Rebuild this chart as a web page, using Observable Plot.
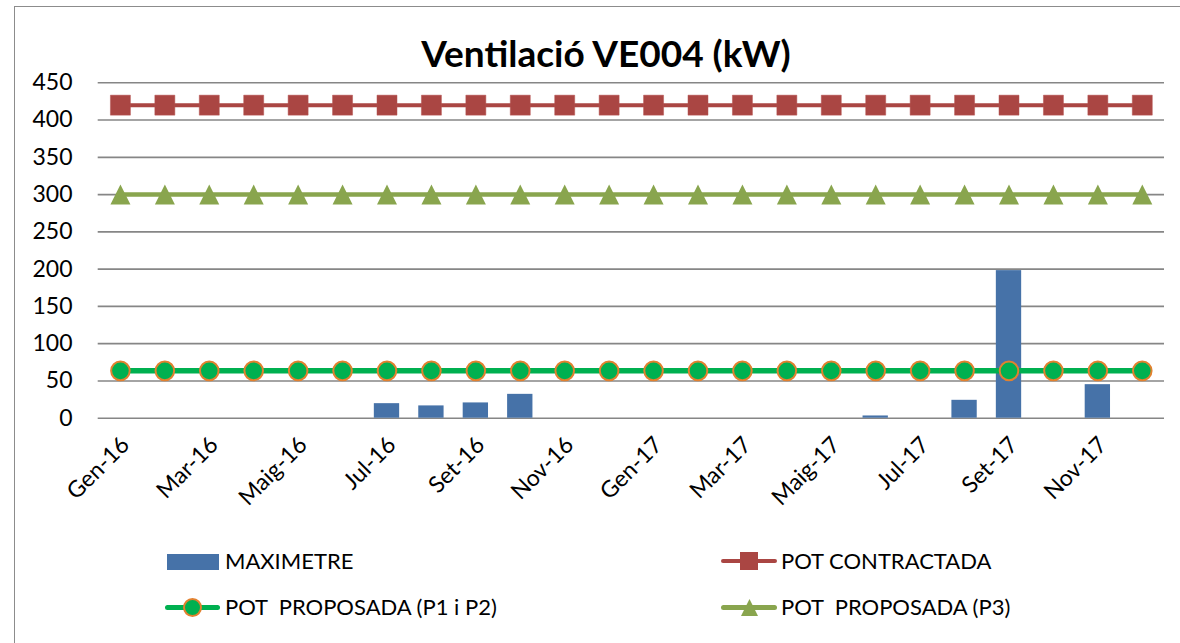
<!DOCTYPE html>
<html>
<head>
<meta charset="utf-8">
<script src="https://cdn.jsdelivr.net/npm/d3@7"></script>
<script src="https://cdn.jsdelivr.net/npm/@observablehq/plot@0.6"></script>
<style>
  html, body { margin: 0; padding: 0; background: #fff; }
  #wrap { position: relative; width: 1180px; height: 643px; overflow: hidden; font-family: Lato, "Liberation Sans", sans-serif; color: #000; }
  #frame { position: absolute; left: 14px; top: 6px; width: 1200px; height: 700px; border-left: 1.5px solid #8c8c8c; border-top: 1.5px solid #8c8c8c; box-sizing: border-box; }
  #title { position: absolute; left: 0; top: 28px; width: 1212px; text-align: center; font-weight: bold; font-size: 37px; line-height: 50px; }
  #chart { position: absolute; left: 0; top: 60px; }
  .legtxt { position: absolute; font-size: 22px; line-height: 30px; white-space: pre; }
  .sw { position: absolute; }
</style>
</head>
<body>
<div id="wrap">
  <div id="frame"></div>
  <div id="chart"></div>
  <div id="title">Ventilació VE004 (kW)</div>
  <div id="legend"></div>
</div>
<script>
const months = ["Gen-16","Feb-16","Mar-16","Abr-16","Maig-16","Jun-16","Jul-16","Ago-16","Set-16","Oct-16","Nov-16","Des-16",
                "Gen-17","Feb-17","Mar-17","Abr-17","Maig-17","Jun-17","Jul-17","Ago-17","Set-17","Oct-17","Nov-17","Des-17"];
const maximetre = [null,null,null,null,null,null,19.5,16.5,20.5,32,null,null,
                   null,null,null,null,null,3,null,24,198,null,45,null];
const potContractada = [420,420,420,420,420,420,420,420,420,420,420,420,
                        420,420,420,420,420,420,420,420,420,420,420,420];
const potP1P2 = [63.5,63.5,63.5,63.5,63.5,63.5,63.5,63.5,63.5,63.5,63.5,63.5,
                 63.5,63.5,63.5,63.5,63.5,63.5,63.5,63.5,63.5,63.5,63.5,63.5];
const potP3 = [300,300,300,300,300,300,300,300,300,300,300,300,
               300,300,300,300,300,300,300,300,300,300,300,300];
const xTickLabels = ["Gen-16","Mar-16","Maig-16","Jul-16","Set-16","Nov-16","Gen-17","Mar-17","Maig-17","Jul-17","Set-17","Nov-17"];
const yTicks = [0,50,100,150,200,250,300,350,400,450];
const seriesNames = ["MAXIMETRE","POT CONTRACTADA","POT  PROPOSADA (P1 i P2)","POT  PROPOSADA (P3)"];

const rows = months.map((m, i) => ({month: m, max: maximetre[i], contr: potContractada[i], p12: potP1P2[i], p3: potP3[i]}));

const C_BAR = "#4672A8", C_RED = "#AA4643", C_GREEN = "#00B050", C_ORANGE = "#E2812F", C_OLIVE = "#89A54E";

const squareSym = { draw(ctx, size) { const r = Math.sqrt(size / Math.PI); ctx.rect(-r, -r, 2 * r, 2 * r); } };
const triSym = { draw(ctx, size) { const r = Math.sqrt(size / Math.PI); ctx.moveTo(0, -r); ctx.lineTo(r, r); ctx.lineTo(-r, r); ctx.closePath(); } };

const chart = Plot.plot({
  width: 1180,
  height: 472,
  marginTop: 22.3,
  marginBottom: 114.3,
  marginLeft: 97.7,
  marginRight: 16,
  style: { fontFamily: "Lato, 'Liberation Sans', sans-serif", background: "transparent", color: "#000" },
  x: { type: "band", domain: months, paddingInner: 0.43, paddingOuter: 0.215, round: false, axis: null, label: null },
  y: { domain: [0, 450], axis: null, label: null },
  marks: [
    Plot.ruleY(yTicks, { stroke: "#868686", strokeWidth: 1.6 }),
    Plot.axisY({ ticks: yTicks, tickSize: 0, tickPadding: 25.7, fontSize: 23, fill: "#000", label: null }),
    Plot.barY(rows.filter(d => d.max != null), { x: "month", y: "max", fill: C_BAR }),
    Plot.lineY(rows, { x: "month", y: "contr", stroke: C_RED, strokeWidth: 4 }),
    Plot.dot(rows, { x: "month", y: "contr", symbol: squareSym, r: 10, fill: C_RED, stroke: "#B65553", strokeWidth: 0.5 }),
    Plot.lineY(rows, { x: "month", y: "p12", stroke: C_GREEN, strokeWidth: 5.5 }),
    Plot.dot(rows, { x: "month", y: "p12", r: 9.3, fill: C_GREEN, stroke: C_ORANGE, strokeWidth: 2 }),
    Plot.lineY(rows, { x: "month", y: "p3", stroke: C_OLIVE, strokeWidth: 4.5 }),
    Plot.dot(rows, { x: "month", y: "p3", symbol: triSym, r: 10, fill: C_OLIVE }),
    Plot.text(xTickLabels, { x: d => d, y: () => 0, text: d => d, rotate: -45, textAnchor: "end", lineAnchor: "middle",
                             fontSize: 23, fill: "#000", dx: 5, dy: 23 })
  ]
});
document.getElementById("chart").appendChild(chart);

// Legend (HTML, below the chart)
const legend = document.getElementById("legend");
function add(html) { legend.insertAdjacentHTML("beforeend", html); }
// MAXIMETRE
add(`<div class="sw" style="left:167px;top:554px;width:52px;height:16px;background:${C_BAR}"></div>`);
add(`<div class="legtxt" style="left:225px;top:546px">${seriesNames[0]}</div>`);
// POT CONTRACTADA
add(`<div class="sw" style="left:721px;top:559px;width:56px;height:4px;border-radius:2px;background:${C_RED}"></div>`);
add(`<div class="sw" style="left:740px;top:552px;width:18px;height:18px;background:${C_RED}"></div>`);
add(`<div class="legtxt" style="left:781px;top:546px">${seriesNames[1]}</div>`);
// P1 i P2
add(`<div class="sw" style="left:165px;top:605px;width:55px;height:5px;border-radius:2.5px;background:${C_GREEN}"></div>`);
add(`<div class="sw" style="left:183px;top:598px;width:15px;height:15px;border-radius:50%;background:${C_GREEN};border:2px solid ${C_ORANGE}"></div>`);
add(`<div class="legtxt" style="left:225px;top:592px">${seriesNames[2]}</div>`);
// P3
add(`<div class="sw" style="left:721px;top:605px;width:56px;height:5px;border-radius:2.5px;background:${C_OLIVE}"></div>`);
add(`<div class="sw" style="left:741px;top:599px;width:17px;height:17px;background:${C_OLIVE};clip-path:polygon(50% 0,100% 100%,0 100%)"></div>`);
add(`<div class="legtxt" style="left:781px;top:592px">${seriesNames[3]}</div>`);
</script>
</body>
</html>
